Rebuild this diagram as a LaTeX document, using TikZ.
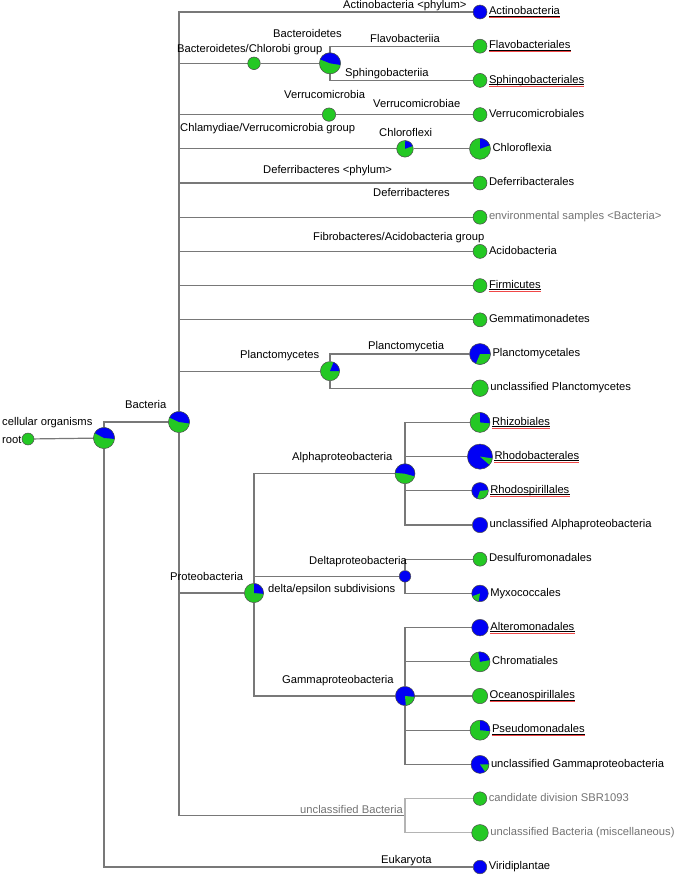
\documentclass[tikz,border=0pt]{standalone}
\usepackage{fontspec}
\setmainfont{Liberation Sans}
\usetikzlibrary{backgrounds}
\definecolor{pieblue}{RGB}{0,0,245}
\definecolor{piegreen}{RGB}{36,200,36}
\definecolor{edgegray}{RGB}{120,120,120}
\definecolor{lightedge}{RGB}{180,180,180}
\definecolor{txtgray}{RGB}{115,115,115}
\definecolor{ulred}{RGB}{240,70,70}
% name, x, y, r, base colour, wedge colour, start, end
\newcommand\pienode[8]{%
  \node[pienode, minimum size={2*#4 pt}] (#1) at (#2,#3) {};
  \fill[#5] (#1.center) circle[radius=#4pt];
  \fill[#6] (#1.center) -- ++(#7:#4pt) arc[start angle=#7, end angle=#8, radius=#4pt] -- cycle;
  \draw[pieborder] (#1.center) circle[radius=#4pt];
}
% name, x, y, r, colour
\newcommand\solidnode[5]{%
  \node[pienode, minimum size={2*#4 pt}, fill=#5] (#1) at (#2,#3) {};
  \draw[pieborder] (#1.center) circle[radius=#4pt];
}
% leaf label: node name, text, extra style
\newcommand\leaftext[3]{%
  \node[lbl, anchor=mid west, #3] (#1-t) at ([xshift=1.6pt]#1.east) {#2};
}
\newcommand\redunder[1]{%
  \draw[line width=0.5pt] ([yshift=-1.3pt]#1.base west) -- ([yshift=-1.3pt]#1.base east);
  \draw[ulred, line width=1pt] ([yshift=-3pt]#1.base west) -- ([yshift=-3pt]#1.base east);
}
\begin{document}
\begin{tikzpicture}[x=1pt,y=-1pt,
  lbl/.style={inner sep=0pt, font=\fontsize{11.2}{13}\selectfont, text=black},
  graylbl/.style={lbl, text=txtgray},
  pienode/.style={circle, inner sep=0pt, draw=none},
  pieborder/.style={draw=black!70, line width=0.5pt},
  treeedge/.style={draw=edgegray, line width=1.2pt},
  lighttreeedge/.style={draw=lightedge, line width=1.2pt}]
\useasboundingbox (0,0) rectangle (675,876);

% ---- internal nodes
\solidnode{root}{28}{439}{6}{piegreen}
\pienode{cell}{104}{438}{10.6}{piegreen}{pieblue}{-5}{152}
\pienode{bact}{179}{422}{10.6}{piegreen}{pieblue}{-8}{155}
\solidnode{chlorobi}{254}{63.3}{6.3}{piegreen}
\pienode{bacteroid}{330}{63.3}{10.6}{piegreen}{pieblue}{-9}{158}
\solidnode{verruco}{329}{114.6}{6.7}{piegreen}
\pienode{chloroflexi}{405}{148.8}{8.3}{piegreen}{pieblue}{20}{88}
\pienode{plancto}{330}{371.1}{9.6}{piegreen}{pieblue}{0}{68}
\pienode{proteo}{254}{593}{9.6}{piegreen}{pieblue}{-5}{90}
\pienode{alpha}{405}{473.7}{10}{piegreen}{pieblue}{-15}{175}
\solidnode{delta}{405}{576.3}{5.8}{pieblue}
\pienode{gamma}{405}{696}{9.6}{pieblue}{piegreen}{-85}{-5}
\coordinate (unclB) at (405,815.7);

% ---- leaves
\solidnode{actino}{480}{12}{7}{pieblue}
\solidnode{flavo}{480}{46.2}{7}{piegreen}
\solidnode{sphingo}{480}{80.4}{7}{piegreen}
\solidnode{verrucales}{480}{114.6}{7}{piegreen}
\pienode{chloroflexia}{480}{148.8}{10.5}{piegreen}{pieblue}{20}{90}
\solidnode{deferri}{480}{183}{7}{piegreen}
\solidnode{envs}{480}{217.2}{7}{piegreen}
\solidnode{acido}{480}{251.4}{7}{piegreen}
\solidnode{firmi}{480}{285.6}{7}{piegreen}
\solidnode{gemma}{480}{319.8}{7}{piegreen}
\pienode{planctales}{480}{354}{10.5}{pieblue}{piegreen}{-113}{0}
\solidnode{unclplancto}{480}{388.2}{8.3}{piegreen}
\pienode{rhizo}{480}{422.4}{10}{piegreen}{pieblue}{-5}{90}
\pienode{rhodob}{480}{456.6}{12.6}{pieblue}{piegreen}{-41}{-8}
\pienode{rhodosp}{480}{490.8}{8.3}{pieblue}{piegreen}{-110}{5}
\solidnode{unclalpha}{480}{525}{7.7}{pieblue}
\solidnode{desulfo}{480}{559.2}{7}{piegreen}
\pienode{myxo}{480}{593.4}{8.3}{pieblue}{piegreen}{200}{260}
\solidnode{altero}{480}{627.6}{8.3}{pieblue}
\pienode{chroma}{480}{661.8}{10}{piegreen}{pieblue}{10}{100}
\solidnode{oceano}{480}{696}{7.7}{piegreen}
\pienode{pseudo}{480}{730.2}{10}{piegreen}{pieblue}{-5}{90}
\pienode{unclgamma}{480}{764.4}{9}{pieblue}{piegreen}{-55}{0}
\solidnode{cand}{480}{798.6}{6.8}{piegreen}
\solidnode{misc}{480}{832.8}{8.3}{piegreen}
\solidnode{virid}{480}{867}{6.8}{pieblue}

% ---- connectors
\begin{pgfonlayer}{background}
\draw[treeedge] (root) -- (cell);
\draw[treeedge] (cell) |- (bact);
\draw[treeedge] (cell) |- (virid);
\foreach \t in {actino,chlorobi,verruco,chloroflexi,deferri,envs,acido,firmi,gemma,plancto,proteo}
  \draw[treeedge] (bact) |- (\t);
\draw[treeedge] (bact) |- (unclB);
\draw[treeedge] (chlorobi) -- (bacteroid);
\draw[treeedge] (bacteroid) |- (flavo);
\draw[treeedge] (bacteroid) |- (sphingo);
\draw[treeedge] (verruco) -- (verrucales);
\draw[treeedge] (chloroflexi) -- (chloroflexia);
\draw[treeedge] (plancto) |- (planctales);
\draw[treeedge] (plancto) |- (unclplancto);
\draw[treeedge] (proteo) |- (alpha);
\draw[treeedge] (proteo) |- (delta);
\draw[treeedge] (proteo) |- (gamma);
\foreach \t in {rhizo,rhodob,rhodosp,unclalpha}
  \draw[treeedge] (alpha) |- (\t);
\foreach \t in {desulfo,myxo}
  \draw[treeedge] (delta) |- (\t);
\foreach \t in {altero,chroma,oceano,pseudo,unclgamma}
  \draw[treeedge] (gamma) |- (\t);
\draw[lighttreeedge] (unclB) |- (cand);
\draw[lighttreeedge] (unclB) |- (misc);
\end{pgfonlayer}

% ---- internal labels
\node[lbl, anchor=mid west] (l-actphy) at (343,6) {Actinobacteria <phylum>};
\node[lbl, anchor=mid west] (l-bacteroid) at (273,35) {Bacteroidetes};
\node[lbl, anchor=mid west] (l-chlorobi) at (177,50) {Bacteroidetes/Chlorobi group};
\node[lbl, anchor=mid west] (l-flavoi) at (370,40) {Flavobacteriia};
\node[lbl, anchor=mid west] (l-sphingoi) at (345,74) {Sphingobacteriia};
\node[lbl, anchor=mid west] (l-verruco) at (284,96) {Verrucomicrobia};
\node[lbl, anchor=mid west] (l-verrucae) at (373,105) {Verrucomicrobiae};
\node[lbl, anchor=mid west] (l-chlamyd) at (180,129) {Chlamydiae/Verrucomicrobia group};
\node[lbl, anchor=mid west] (l-chloroflexi) at (379,134) {Chloroflexi};
\node[lbl, anchor=mid west] (l-defphy) at (263,171) {Deferribacteres <phylum>};
\node[lbl, anchor=mid west] (l-deferr) at (373,194) {Deferribacteres};
\node[lbl, anchor=mid west] (l-fibro) at (313,238) {Fibrobacteres/Acidobacteria group};
\node[lbl, anchor=mid west] (l-plancto) at (240,356) {Planctomycetes};
\node[lbl, anchor=mid west] (l-planctoia) at (368,347) {Planctomycetia};
\node[lbl, anchor=mid west] (l-alpha) at (292,458) {Alphaproteobacteria};
\node[lbl, anchor=mid west] (l-proteo) at (170,578) {Proteobacteria};
\node[lbl, anchor=mid west] (l-delta) at (309,562) {Deltaproteobacteria};
\node[lbl, anchor=mid west] (l-deltaeps) at (268,590) {delta/epsilon subdivisions};
\node[lbl, anchor=mid west] (l-gamma) at (282,681) {Gammaproteobacteria};
\node[graylbl, anchor=mid west] (l-unclB) at (300,811) {unclassified Bacteria};
\node[lbl, anchor=mid west] (l-euk) at (381,861) {Eukaryota};
\node[lbl, anchor=mid west] (l-bact) at (125,406) {Bacteria};
\node[lbl, anchor=mid west] (l-cell) at (2,423) {cellular organisms};
\node[lbl, anchor=mid west] (l-root) at (2,441) {root};

% ---- leaf labels
\leaftext{actino}{Actinobacteria}{}
\leaftext{flavo}{Flavobacteriales}{}
\leaftext{sphingo}{Sphingobacteriales}{}
\leaftext{verrucales}{Verrucomicrobiales}{}
\leaftext{chloroflexia}{Chloroflexia}{}
\leaftext{deferri}{Deferribacterales}{}
\leaftext{envs}{environmental samples <Bacteria>}{text=txtgray}
\leaftext{acido}{Acidobacteria}{}
\leaftext{firmi}{Firmicutes}{}
\leaftext{gemma}{Gemmatimonadetes}{}
\leaftext{planctales}{Planctomycetales}{}
\leaftext{unclplancto}{unclassified Planctomycetes}{}
\leaftext{rhizo}{Rhizobiales}{}
\leaftext{rhodob}{Rhodobacterales}{}
\leaftext{rhodosp}{Rhodospirillales}{}
\leaftext{unclalpha}{unclassified Alphaproteobacteria}{}
\leaftext{desulfo}{Desulfuromonadales}{}
\leaftext{myxo}{Myxococcales}{}
\leaftext{altero}{Alteromonadales}{}
\leaftext{chroma}{Chromatiales}{}
\leaftext{oceano}{Oceanospirillales}{}
\leaftext{pseudo}{Pseudomonadales}{}
\leaftext{unclgamma}{unclassified Gammaproteobacteria}{}
\leaftext{cand}{candidate division SBR1093}{text=txtgray}
\leaftext{misc}{unclassified Bacteria (miscellaneous)}{text=txtgray}
\leaftext{virid}{Viridiplantae}{}

\foreach \t in {actino,flavo,sphingo,firmi,rhizo,rhodob,rhodosp,altero,oceano,pseudo}
  {\redunder{\t-t}}
\end{tikzpicture}
\end{document}
